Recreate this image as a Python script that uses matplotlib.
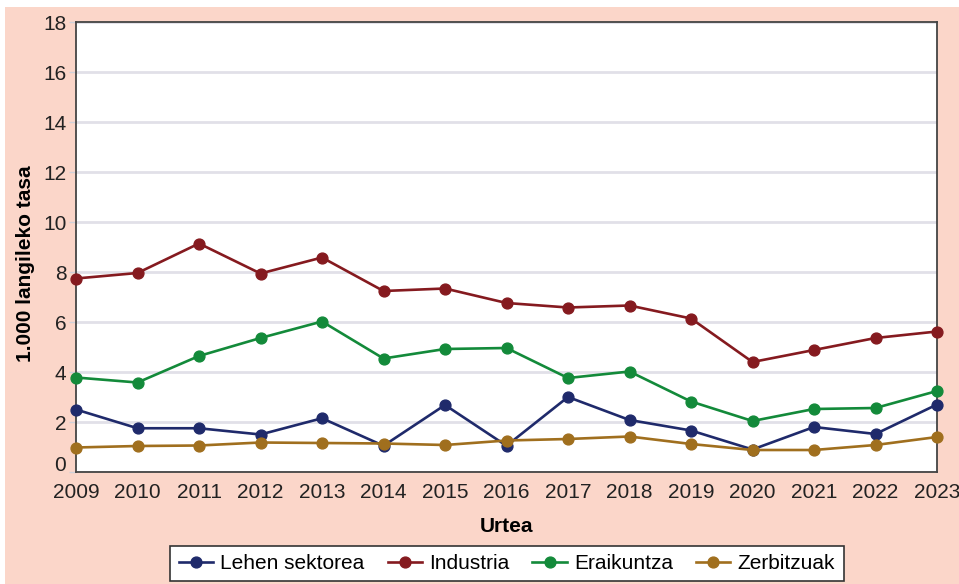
import numpy as np
import matplotlib
matplotlib.use('Agg')
import matplotlib.pyplot as plt
from matplotlib.patches import Rectangle
from matplotlib.transforms import ScaledTranslation

plt.rcParams['font.family'] = ['Liberation Sans', 'DejaVu Sans']

# Data
years = list(range(2009, 2024))
lehen = [2.5, 1.75, 1.75, 1.5, 2.15, 1.05, 2.68, 1.05, 3.0, 2.08, 1.66, 0.9, 1.8, 1.52, 2.7]
industria = [7.74, 7.96, 9.14, 7.94, 8.58, 7.24, 7.34, 6.76, 6.58, 6.66, 6.14, 4.4, 4.88, 5.36, 5.62]
eraikuntza = [3.78, 3.58, 4.64, 5.36, 6.02, 4.54, 4.92, 4.96, 3.76, 4.02, 2.82, 2.04, 2.52, 2.56, 3.24]
zerbitzuak = [0.98, 1.04, 1.06, 1.18, 1.16, 1.14, 1.08, 1.26, 1.32, 1.42, 1.12, 0.88, 0.88, 1.08, 1.4]

series_names = ['Lehen sektorea', 'Industria', 'Eraikuntza', 'Zerbitzuak']
series_vals = [lehen, industria, eraikuntza, zerbitzuak]
colors = ['#1f2a6b', '#851a1f', '#138a3a', '#a06f1e']
ytick_vals = list(range(0, 19, 2))

fig = plt.figure(figsize=(9.59, 5.84), dpi=100)
fig.patch.set_facecolor('white')
# pink frame behind everything
fig.patches.append(Rectangle((5 / 959, 0), 1, (584 - 7) / 584, transform=fig.transFigure,
                             facecolor='#fbd6c9', edgecolor='none', zorder=-10))

ax = fig.add_axes([76 / 959, 1 - 472 / 584, (937 - 76) / 959, (472 - 22) / 584])
ax.set_facecolor('white')

for name, vals, c in zip(series_names, series_vals, colors):
    ax.plot(years, vals, color=c, linewidth=1.9, marker='o', markersize=7.8,
            label=name, clip_on=False, zorder=3)

ax.set_xlim(2009, 2023)
ax.set_ylim(0, 18)
ax.set_xticks(years)
ax.set_yticks(ytick_vals)
ax.grid(axis='y', color='#e1e0e8', linewidth=2, zorder=0)
ax.set_axisbelow(True)

ax.tick_params(axis='x', length=0, pad=8, labelsize=15, colors='#222222')
ax.tick_params(axis='y', length=5, width=1, color='#d0d0d8', pad=2, labelsize=15,
               labelcolor='#222222')

# the "0" label sits a bit above its tick in the reference
lab0 = ax.get_yticklabels()[0]
lab0.set_transform(lab0.get_transform() + ScaledTranslation(0, 6 / 72, fig.dpi_scale_trans))

for s in ax.spines.values():
    s.set_color('#444444')
    s.set_linewidth(1.3)

ax.set_ylabel('1.000 langileko tasa', fontsize=15, fontweight='bold')
ax.yaxis.set_label_coords(-0.048, 0.464)
ax.set_xlabel('Urtea', fontsize=15, fontweight='bold', labelpad=11)

leg = fig.legend(loc='center', bbox_to_anchor=(507 / 959, 1 - 563.5 / 584), ncol=4,
                 fontsize=15, frameon=True, fancybox=False, edgecolor='#333333',
                 framealpha=1, handlelength=1.65, columnspacing=1.1, handletextpad=0.35,
                 borderpad=0.4, borderaxespad=0)
leg.get_frame().set_linewidth(1.2)

fig.savefig('out.png', dpi=100)
